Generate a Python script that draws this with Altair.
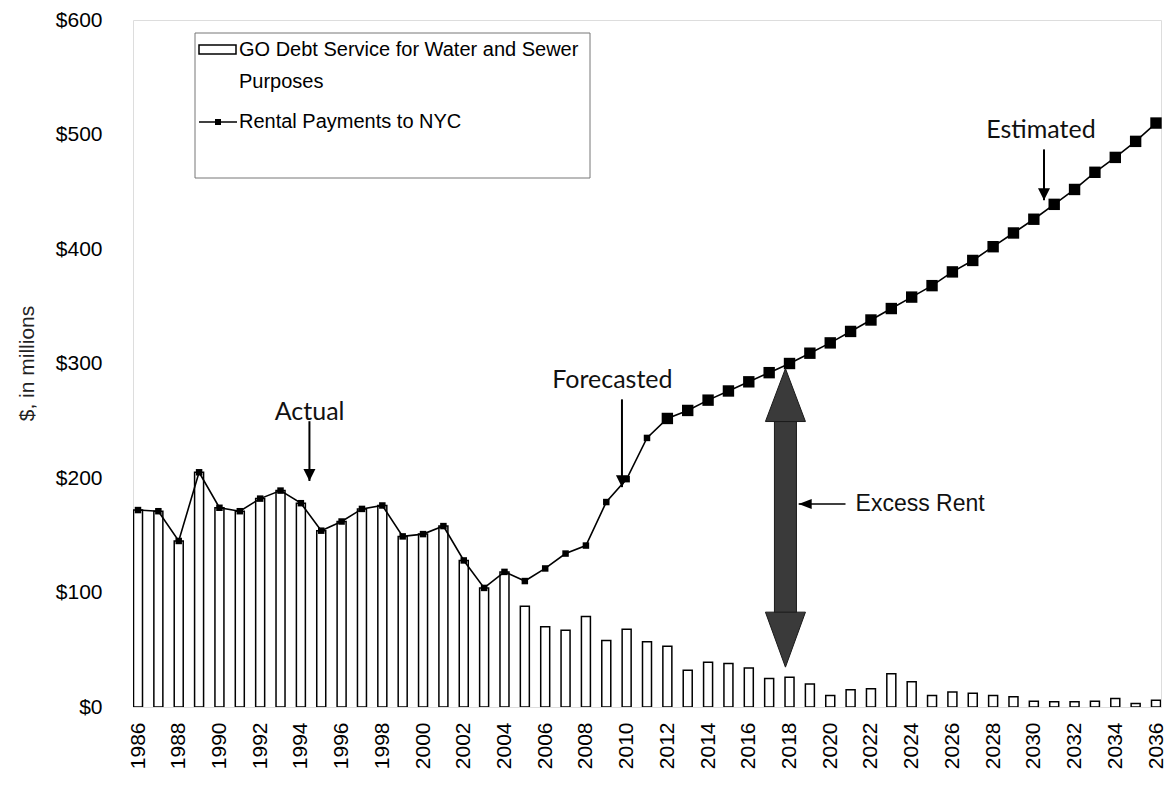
import altair as alt
import pandas as pd

years = list(range(1986, 2037))
rental = [172, 171, 145, 205, 174, 171, 182, 189, 178, 154, 162, 173, 176, 149, 151, 158, 128,
          104, 118, 110, 121, 134, 141, 179, 199, 235, 252,
          259, 268, 276, 284, 292, 300, 309, 318, 328, 338,
          348, 358, 368, 380, 390, 402, 414, 426, 439, 452,
          467, 480, 494, 510]
debt = [172, 171, 145, 205, 174, 171, 182, 189, 178, 154, 162, 173, 176, 149, 151, 158, 128, 104, 118,
        88, 70, 67, 79, 58, 68, 57, 53, 32, 39, 38, 34, 25, 26, 20, 10,
        15, 16, 29, 22, 10, 13, 12, 10, 9, 5, 4.5, 4.5, 5, 7.5, 3, 6]
tick_years = list(range(1986, 2037, 2))
y_ticks = [0, 100, 200, 300, 400, 500, 600]

# annotations (in data units)
ann_labels = ["Actual", "Forecasted", "Estimated"]
ann_year = [1994.43, 2009.3, 2030.35]
ann_value = [258, 286, 503.5]
arrow_year = [1994.42, 2009.77, 2030.5]
arrow_top = [249.6, 268.7, 487]
arrow_tip = [197.4, 192, 442.6]

df = pd.DataFrame({"year": years, "rental": rental, "debt": debt})
ann = pd.DataFrame({"label": ann_labels, "year": ann_year, "value": ann_value})
arr = pd.DataFrame({"year": arrow_year, "top": arrow_top, "tip": arrow_tip})
one = pd.DataFrame({"k": [0]})

FONT = "Liberation Sans"
xs = alt.Scale(domain=[1986, 2036], nice=False, zero=False)
ys = alt.Scale(domain=[0, 600], nice=False)

x_axis = alt.Axis(values=tick_years, format="d", labelAngle=270, labelFontSize=21, labelFont=FONT,
                  labelColor="#000", labelPadding=15, ticks=False, domain=False, grid=False,
                  title=None, labelFlush=False, labelOverlap=False)
y_axis = alt.Axis(values=y_ticks, labelExpr="'$' + datum.value", labelFontSize=21, labelFont=FONT,
                  labelColor="#000", labelPadding=31, ticks=False, domain=False, grid=False,
                  title="$, in millions", titleFont=FONT, titleFontSize=21, titleFontWeight="normal",
                  titleColor="#222", titleX=-96, titleY=343, titleAngle=270, titleBaseline="bottom",
                  titleAlign="center")

base = alt.Chart(df)
bars = base.mark_bar(size=9, fill="white", stroke="black", strokeWidth=1.5, clip=True).encode(
    x=alt.X("year:Q", scale=xs, axis=x_axis),
    y=alt.Y("debt:Q", scale=ys, axis=y_axis),
)
line = base.mark_line(color="black", strokeWidth=1.6).encode(
    x=alt.X("year:Q", scale=xs), y=alt.Y("rental:Q", scale=ys))
pts_small = base.transform_filter("datum.year <= 2011").mark_point(
    shape="square", filled=True, size=42, color="black", opacity=1).encode(
    x=alt.X("year:Q", scale=xs), y=alt.Y("rental:Q", scale=ys))
pts_big = base.transform_filter("datum.year > 2011").mark_point(
    shape="square", filled=True, size=130, color="black", opacity=1).encode(
    x=alt.X("year:Q", scale=xs), y=alt.Y("rental:Q", scale=ys))

ann_text = alt.Chart(ann).mark_text(font="Lato", fontSize=25, color="#111", align="center",
                                    baseline="middle").encode(
    x=alt.X("year:Q", scale=xs), y=alt.Y("value:Q", scale=ys), text="label:N")
shafts = alt.Chart(arr).mark_rule(color="black", strokeWidth=2).encode(
    x=alt.X("year:Q", scale=xs), y=alt.Y("top:Q", scale=ys), y2="tip:Q")
heads = alt.Chart(arr).mark_point(shape="M-1,-2L1,-2L0,0Z", size=144, filled=True, color="black",
                                  opacity=1).encode(
    x=alt.X("year:Q", scale=xs), y=alt.Y("tip:Q", scale=ys))

# Excess rent double arrow
ex = pd.DataFrame({"year": [2017.8], "top": [295.6], "bot": [34.8], "sh_top": [255.0], "sh_bot": [78.0],
                   "lbl_year": [2021.0], "lbl_val": [177.4], "ptr_from": [2020.75], "ptr_to": [2018.45]})
ex_shaft = alt.Chart(ex).mark_bar(size=22, fill="#3a3a3a", stroke="#1a1a1a", strokeWidth=1).encode(
    x=alt.X("year:Q", scale=xs), y=alt.Y("sh_top:Q", scale=ys), y2="sh_bot:Q")
ex_head_top = alt.Chart(ex).mark_point(shape="M0,0L20,53L-20,53Z", size=4, filled=True, fill="#3a3a3a",
                                       stroke="#1a1a1a", strokeWidth=1, opacity=1).encode(
    x=alt.X("year:Q", scale=xs), y=alt.Y("top:Q", scale=ys))
ex_head_bot = alt.Chart(ex).mark_point(shape="M0,0L20,-55L-20,-55Z", size=4, filled=True, fill="#3a3a3a",
                                       stroke="#1a1a1a", strokeWidth=1, opacity=1).encode(
    x=alt.X("year:Q", scale=xs), y=alt.Y("bot:Q", scale=ys))
ex_ptr = alt.Chart(ex).mark_rule(color="black", strokeWidth=1.5).encode(
    x=alt.X("ptr_from:Q", scale=xs), x2="ptr_to:Q", y=alt.Y("lbl_val:Q", scale=ys))
ex_ptr_head = alt.Chart(ex).mark_point(shape="M0,0L13,-5L13,5Z", size=4, filled=True, color="black",
                                       opacity=1).encode(
    x=alt.X("ptr_to:Q", scale=xs), y=alt.Y("lbl_val:Q", scale=ys))
ex_text = alt.Chart(ex).mark_text(text="Excess Rent", font=FONT, fontSize=23, color="#111", align="left",
                                  baseline="middle", dx=5).encode(
    x=alt.X("lbl_year:Q", scale=xs), y=alt.Y("lbl_val:Q", scale=ys))

# legend (pixel positions inside plot)
lg = alt.Chart(one)
leg_box = lg.mark_rect(fill="white", stroke="#777", strokeWidth=1).encode(
    x=alt.value(62), x2=alt.value(457), y=alt.value(13), y2=alt.value(158))
leg_rect = lg.mark_rect(fill="white", stroke="black", strokeWidth=1.5).encode(
    x=alt.value(66), x2=alt.value(103), y=alt.value(25), y2=alt.value(34))
leg_t1 = lg.mark_text(text="GO Debt Service for Water and Sewer", font=FONT, fontSize=20,
                      align="left", baseline="middle", color="black").encode(
    x=alt.value(106), y=alt.value(30))
leg_t2 = lg.mark_text(text="Purposes", font=FONT, fontSize=20, align="left",
                      baseline="middle", color="black").encode(
    x=alt.value(106), y=alt.value(62))
leg_line = lg.mark_rule(color="black", strokeWidth=1.5).encode(
    x=alt.value(66), x2=alt.value(104), y=alt.value(102))
leg_pt = lg.mark_point(shape="square", filled=True, size=36, color="black", opacity=1).encode(
    x=alt.value(85), y=alt.value(102))
leg_t3 = lg.mark_text(text="Rental Payments to NYC", font=FONT, fontSize=20, align="left",
                      baseline="middle", color="black").encode(
    x=alt.value(106), y=alt.value(102))

chart = alt.layer(
    bars, line, pts_small, pts_big, ann_text, shafts, heads,
    ex_shaft, ex_head_top, ex_head_bot, ex_ptr, ex_ptr_head, ex_text,
    leg_box, leg_rect, leg_t1, leg_t2, leg_line, leg_pt, leg_t3,
).properties(
    width=1028, height=687,
    autosize=alt.AutoSizeParams(type="none"),
    padding={"left": 125, "top": 12, "right": 6, "bottom": 76},
).configure_view(stroke="black", strokeWidth=1.5).configure(background="white")

chart.save("out.html", embed_options={"renderer": "svg", "actions": False})
